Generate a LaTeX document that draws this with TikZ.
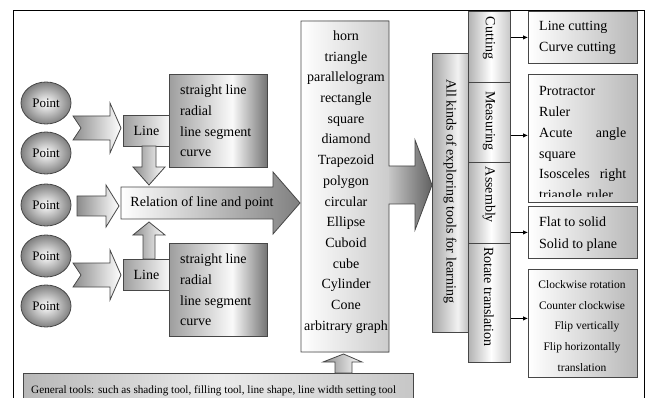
\documentclass[tikz,border=0pt]{standalone}
\usepackage{fontspec}
\setmainfont{Liberation Serif}
\usetikzlibrary{arrows.meta,shapes.geometric}
\newcommand\sizeA{\fontsize{14}{20.7}\selectfont}
\newcommand\sizeP{\fontsize{13}{16}\selectfont}
\newcommand\sizeR{\fontsize{11.5}{20.7}\selectfont}
\newcommand\sizeG{\fontsize{11.2}{14}\selectfont}
% horizontal grey-white-grey fills (the useful range is 25bp..75bp)
\pgfdeclarehorizontalshading{listsh}{100bp}{color(0bp)=(black!38); color(25bp)=(black!38);
  color(57bp)=(black!2); color(75bp)=(black!55); color(100bp)=(black!55)}
\pgfdeclarehorizontalshading{tabsh}{100bp}{color(0bp)=(black!30); color(25bp)=(black!30);
  color(52bp)=(white); color(75bp)=(black!22); color(100bp)=(black!22)}
\pgfdeclarehorizontalshading{colsh}{100bp}{color(0bp)=(black!35); color(25bp)=(black!35);
  color(60bp)=(black!5); color(75bp)=(black!25); color(100bp)=(black!25)}
\pgfdeclarehorizontalshading{barsh}{100bp}{color(0bp)=(black!28); color(25bp)=(black!28);
  color(50bp)=(black!8); color(75bp)=(black!22); color(100bp)=(black!22)}
\begin{document}
\begin{tikzpicture}[x=1pt,y=-1pt,
  outl/.style={draw=black!72,line width=0.8pt},
  pt/.style={ellipse,outl,minimum width=50pt,minimum height=42pt,inner sep=0pt,
    inner color=white,outer color=black!50,font=\sizeP},
  chev/.style={outl,left color=black!45,right color=white},
  lbox/.style={outl,anchor=north west,inner sep=0pt,left color=black!38,right color=black!3,font=\sizeA},
  tbox/.style={outl,anchor=north west,inner sep=0pt,shade,shading=listsh},
  varrow/.style={outl,left color=black!45,right color=white},
  tabbox/.style={outl,anchor=north west,inner sep=0pt,minimum width=42pt,shade,shading=tabsh},
  rbox/.style={outl,anchor=north west,inner sep=0pt,minimum width=109pt,left color=white,right color=black!28},
  rtext/.style={font=\sizeA,rotate=-90,inner sep=0pt},
  tip/.style={-{Latex[length=5pt,width=4.5pt]},line width=0.8pt,black}
]
\useasboundingbox (0,0) rectangle (653,398);

% outer frame, open at the bottom
\draw[black,line width=1pt] (13,398) -- (13,11) -- (644,11) -- (644,398);

% points
\foreach \i/\yy in {1/103,2/153,3/205,4/256,5/306}
  \node[pt] (p\i) at (46,\yy) {Point};

% notched arrows from the points to the line boxes
\path[chev] (73,116) -- (110,116) -- (110,103) -- (121,128) -- (110,153) -- (110,140)
  -- (73,140) -- (81,128) -- cycle;
\path[chev] (73,263) -- (110,263) -- (110,250) -- (121,275) -- (110,300) -- (110,287)
  -- (73,287) -- (81,275) -- cycle;
% plain arrow from the middle point
\path[chev] (77,196) -- (106,196) -- (106,185) -- (119,206) -- (106,227) -- (106,216)
  -- (77,216) -- cycle;

% line boxes and their lists
\node[lbox,minimum width=46pt,minimum height=31pt] (line1) at (123,115) {Line};
\node[lbox,minimum width=46pt,minimum height=31pt] (line2) at (123,259) {Line};
\node[tbox,minimum width=98pt,minimum height=93pt] (kinds1) at (169,74) {};
\node[tbox,minimum width=98pt,minimum height=93pt] (kinds2) at (169,243) {};
\node[anchor=west,align=left,font=\sizeA,inner sep=0pt] (kinds1t) at (180,121)
  {straight line\\radial\\line segment\\curve};
\node[anchor=west,align=left,font=\sizeA,inner sep=0pt] (kinds2t) at (180,290)
  {straight line\\radial\\line segment\\curve};

% vertical block arrows into the relation arrow
\path[varrow] (142,146) -- (156,146) -- (156,167) -- (165,167) -- (149,185) -- (133,167)
  -- (142,167) -- cycle;
\path[varrow] (143,259) -- (155,259) -- (155,235) -- (165,235) -- (149,222) -- (133,235)
  -- (143,235) -- cycle;

% relation arrow
\path[outl,left color=white,right color=black!50] (121,187) -- (273,187) -- (273,172)
  -- (300,203) -- (273,234) -- (273,219) -- (121,219) -- cycle;
\node[font=\sizeA,inner sep=0pt] (rel) at (202,203) {Relation of line and point};

% list of shapes with its outgoing arrow
\path[left color=white,right color=black!20] (301,21) rectangle (389,352);
\path[left color=black!22,right color=black!62] (389,166) -- (415,166) -- (415,140)
  -- (432,185) -- (415,230) -- (415,204) -- (389,204) -- cycle;
\draw[outl] (301,21) -- (389,21) -- (389,166) -- (415,166) -- (415,140) -- (432,185)
  -- (415,230) -- (415,204) -- (389,204) -- (389,352) -- (301,352) -- cycle;
\node[font=\sizeA,align=center,inner sep=0pt] (shapes) at (346,182)
  {horn\\triangle\\parallelogram\\rectangle\\square\\diamond\\Trapezoid\\polygon\\circular\\Ellipse\\Cuboid\\cube\\Cylinder\\Cone\\arbitrary graph};

% general tools bar and its arrow
\path[outl,shade,shading=barsh] (23,373) rectangle (413,410);
\node[font=\sizeG,anchor=west,inner sep=0pt] (general) at (31,391)
  {General tools: such as shading tool, filling tool, line shape, line width setting tool};
\path[varrow] (335,373) -- (335,362) -- (323,362) -- (343.5,354) -- (362,362) -- (352,362)
  -- (352,373) -- cycle;

% exploring tools column
\node[outl,anchor=north west,inner sep=0pt,minimum width=36pt,minimum height=279pt,
  shade,shading=colsh] (explore) at (432,53) {};
\node[rtext] (exploret) at (450,191) {All kinds of exploring tools for learning};

% tool tabs
\node[tabbox,minimum height=71pt] (tcut) at (468,11) {};
\node[tabbox,minimum height=80pt] (tmeas) at (468,82) {};
\node[tabbox,minimum height=81pt] (tasm) at (468,162) {};
\node[tabbox,minimum height=119pt] (trot) at (468,243) {};
\node[rtext] (tcutt) at (489,38) {Cutting};
\node[rtext] (tmeast) at (489,121) {Measuring};
\node[rtext] (tasmt) at (489,195) {Assembly};
\node[rtext] (trott) at (489,297) {Rotate translation};

% tool detail boxes
\node[rbox,minimum height=52pt] (bcut) at (528,11) {};
\node[rbox,minimum height=128pt] (bmeas) at (528,74) {};
\node[rbox,minimum height=52pt] (basm) at (528,206) {};
\node[rbox,minimum height=108pt] (brot) at (528,269) {};

\node[anchor=west,align=left,font=\sizeA,inner sep=0pt] (bcutt) at (539,38)
  {Line cutting\\Curve cutting};
\begin{scope}
  \clip (528,74) rectangle (637,196.5);
  \node[anchor=base west,text width=87pt,align=left,font=\sizeA,inner sep=0pt] (bmeast) at (539,96)
    {Protractor\\Ruler\\Acute\hfill angle\\square\\Isosceles\hfill right\\triangle ruler};
\end{scope}
\node[anchor=west,align=left,font=\fontsize{14}{22}\selectfont,inner sep=0pt] (basmt) at (539,234)
  {Flat to solid\\Solid to plane};
\node[align=center,font=\sizeR,inner sep=0pt] (brott) at (582,326)
  {Clockwise rotation\\Counter clockwise\\\hspace*{10pt}Flip vertically\\Flip horizontally\\translation};

% connectors from the tabs to their boxes
\coordinate (measin) at ([yshift=3pt]bmeas.west);
\coordinate (rotin) at ([yshift=5pt]brot.west);
\draw[tip] (tcut.east |- bcut.west) -- (bcut.west);
\draw[tip] (tmeas.east |- measin) -- (measin);
\draw[tip] (tasm.east |- basm.west) -- (basm.west);
\draw[tip] (trot.east |- rotin) -- (rotin);
\end{tikzpicture}
\end{document}
